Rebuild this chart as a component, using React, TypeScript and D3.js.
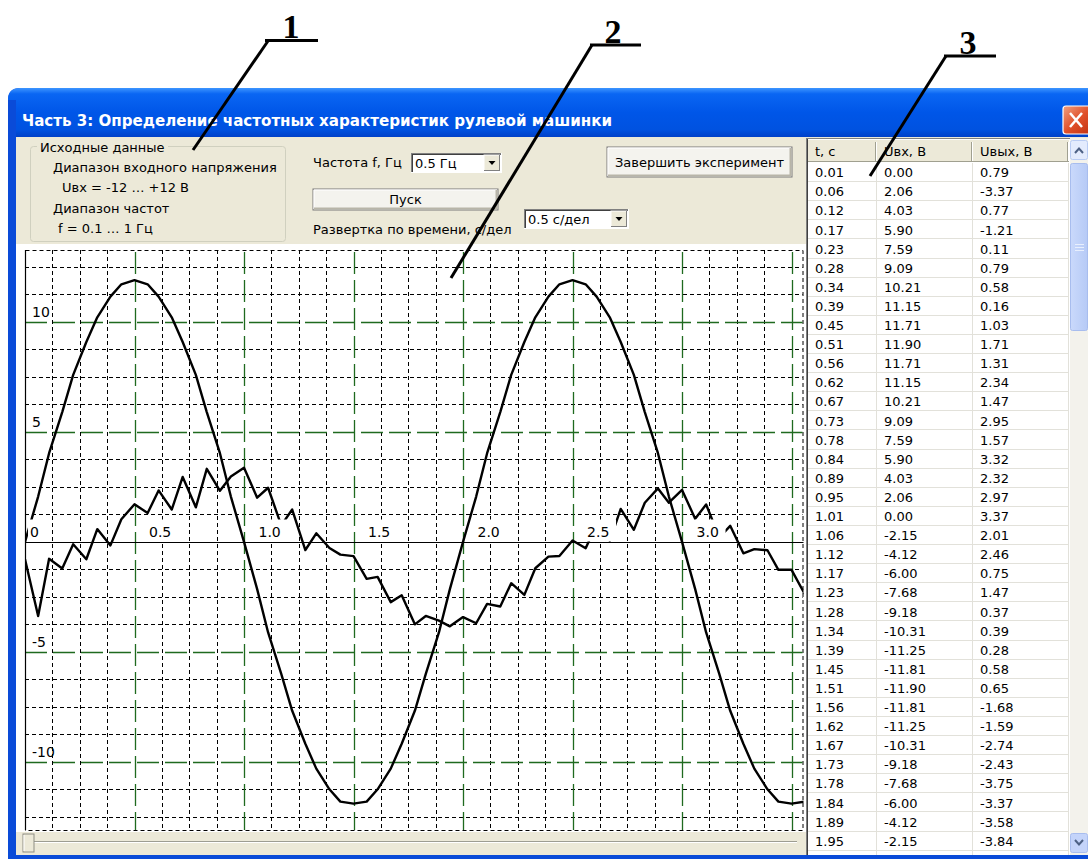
import React from "react";
import * as d3 from "d3";

// ---------- table (as displayed in the grid on the right) ----------
const tableTime = ["0.01","0.06","0.12","0.17","0.23","0.28","0.34","0.39","0.45","0.51","0.56","0.62","0.67","0.73","0.78","0.84","0.89","0.95","1.01","1.06","1.12","1.17","1.23","1.28","1.34","1.39","1.45","1.51","1.56","1.62","1.67","1.73","1.78","1.84","1.89","1.95"];
const tableUin = ["0.00","2.06","4.03","5.90","7.59","9.09","10.21","11.15","11.71","11.90","11.71","11.15","10.21","9.09","7.59","5.90","4.03","2.06","0.00","-2.15","-4.12","-6.00","-7.68","-9.18","-10.31","-11.25","-11.81","-11.90","-11.81","-11.25","-10.31","-9.18","-7.68","-6.00","-4.12","-2.15"];
const tableUout = ["0.79","-3.37","0.77","-1.21","0.11","0.79","0.58","0.16","1.03","1.71","1.31","2.34","1.47","2.95","1.57","3.32","2.32","2.97","3.37","2.01","2.46","0.75","1.47","0.37","0.39","0.28","0.58","0.65","-1.68","-1.59","-2.74","-2.43","-3.75","-3.37","-3.58","-3.84"];
const tableHeaders = ["t, c", "Uвх, В", "Uвых, В"];

// ---------- oscillogram ----------
const plotTime = [0.00,0.06,0.11,0.17,0.22,0.28,0.33,0.39,0.44,0.50,0.56,0.61,0.67,0.72,0.78,0.83,0.89,0.94,1.00,1.06,1.11,1.17,1.22,1.28,1.33,1.39,1.44,1.50,1.56,1.61,1.67,1.72,1.78,1.83,1.89,1.94,2.00,2.06,2.11,2.17,2.22,2.28,2.33,2.39,2.44,2.50,2.56,2.61,2.67,2.72,2.78,2.83,2.89,2.94,3.00,3.06,3.11,3.17,3.22,3.28,3.33,3.39,3.44,3.50,3.56];
const plotUin = [0.00,2.06,4.03,5.90,7.59,9.09,10.21,11.15,11.71,11.90,11.71,11.15,10.21,9.09,7.59,5.90,4.03,2.06,0.00,-2.15,-4.12,-6.00,-7.68,-9.18,-10.31,-11.25,-11.81,-11.90,-11.81,-11.25,-10.31,-9.18,-7.68,-6.00,-4.12,-2.15,0.00,2.06,4.03,5.90,7.59,9.09,10.21,11.15,11.71,11.90,11.71,11.15,10.21,9.09,7.59,5.90,4.03,2.06,0.00,-2.15,-4.12,-6.00,-7.68,-9.18,-10.31,-11.25,-11.81,-11.90,-11.81];
const plotUout = [-0.79,-3.37,-0.77,-1.21,-0.11,-0.79,0.58,-0.16,1.03,1.71,1.31,2.34,1.47,2.95,1.57,3.32,2.32,2.97,3.37,2.01,2.46,0.75,1.47,-0.37,0.39,-0.28,-0.58,-0.65,-1.68,-1.59,-2.74,-2.43,-3.75,-3.37,-3.58,-3.84,-3.42,-3.70,-2.82,-2.94,-1.88,-2.41,-1.20,-0.67,-0.64,0.06,-0.29,0.80,0.05,1.50,0.55,1.78,2.43,1.78,2.36,1.05,1.70,0.20,0.73,-0.52,-0.33,-0.38,-1.27,-1.27,-2.37];

const xMajorTicks = [0.5, 1.0, 1.5, 2.0, 2.5, 3.0, 3.5];
const xLabelTicks = [0, 0.5, 1.0, 1.5, 2.0, 2.5, 3.0];
const xLabelTexts = ["0", "0.5", "1.0", "1.5", "2.0", "2.5", "3.0"];
const yMajorTicks = [10, 5, -5, -10];
const yLabelTexts = ["10", "5", "-5", "-10"];

// ---------- UI texts ----------
const windowTitle = "Часть 3: Определение частотных характеристик рулевой машинки";
const groupTitle = "Исходные данные";
const groupLines = ["Диапазон входного напряжения", "Uвх = -12 … +12 В", "Диапазон частот", "f = 0.1 … 1 Гц"];
const freqLabel = "Частота f, Гц";
const freqValue = "0.5 Гц";
const startLabel = "Пуск";
const sweepLabel = "Развертка по времени, с/дел";
const sweepValue = "0.5 с/дел";
const finishLabel = "Завершить эксперимент";
const callouts = ["1", "2", "3"];

const UI_FONT = "'DejaVu Sans', Verdana, sans-serif";
const BEIGE = "#ECE9D8";

function Button3D({ x, y, w, h, label, fs = 13 }: any) {
  return (
    <g>
      <rect x={x} y={y} width={w} height={h} fill="#F4F3EE" stroke="#7A7A7A" strokeWidth={1} />
      <line x1={x + 1} y1={y + 1} x2={x + w - 1} y2={y + 1} stroke="#fff" />
      <line x1={x + 1} y1={y + 1} x2={x + 1} y2={y + h - 1} stroke="#fff" />
      <line x1={x + 1} y1={y + h - 1.5} x2={x + w - 1} y2={y + h - 1.5} stroke="#B8B5A8" strokeWidth={2} />
      <line x1={x + w - 1.5} y1={y + 1} x2={x + w - 1.5} y2={y + h - 1} stroke="#B8B5A8" strokeWidth={2} />
      <text x={x + w / 2} y={y + h / 2 + 4.7} fontSize={fs} fontFamily={UI_FONT} textAnchor="middle" fill="#000">{label}</text>
    </g>
  );
}

function Combo({ x, y, w, h, value }: any) {
  const bx = x + w - 18;
  return (
    <g>
      <rect x={x} y={y} width={w} height={h} fill="#fff" />
      <line x1={x} y1={y + 0.5} x2={x + w} y2={y + 0.5} stroke="#808080" />
      <line x1={x + 0.5} y1={y} x2={x + 0.5} y2={y + h} stroke="#808080" />
      <line x1={x + 1} y1={y + 1.5} x2={x + w - 1} y2={y + 1.5} stroke="#404040" />
      <line x1={x + 1.5} y1={y + 1} x2={x + 1.5} y2={y + h - 1} stroke="#404040" />
      <line x1={x} y1={y + h - 0.5} x2={x + w} y2={y + h - 0.5} stroke="#fff" />
      <line x1={x + w - 0.5} y1={y} x2={x + w - 0.5} y2={y + h} stroke="#fff" />
      <rect x={bx} y={y + 2} width={16} height={h - 4} fill={BEIGE} stroke="#fff" strokeWidth={1} />
      <line x1={bx} y1={y + h - 2.5} x2={bx + 16} y2={y + h - 2.5} stroke="#808080" />
      <line x1={bx + 15.5} y1={y + 2} x2={bx + 15.5} y2={y + h - 2} stroke="#808080" />
      <path d={`M${bx + 4.5},${y + h / 2 - 2} L${bx + 11.5},${y + h / 2 - 2} L${bx + 8},${y + h / 2 + 2} Z`} fill="#000" />
      <text x={x + 4} y={y + h / 2 + 4.7} fontSize={13} fontFamily={UI_FONT} fill="#000">{value}</text>
    </g>
  );
}

export default function App() {
  // plot geometry
  const left = 25, right = 802.5, top = 250, bottom = 830;
  const x = d3.scaleLinear().domain([0, 3.55]).range([left, right]);
  const y = d3.scaleLinear().domain([-13.1, 13.27]).range([bottom, top]);

  const lineGen = d3.line<number>().x((_, i) => x(plotTime[i])).y((d) => y(d)).curve(d3.curveLinear);

  const xMinor = d3.range(1, 29).filter((k) => k % 4 !== 0).map((k) => k * 0.125);
  const yMinor = d3.range(-10, 11).filter((k) => k % 4 !== 0).map((k) => k * 1.25);

  // table geometry
  const colX = [808, 877, 973, 1069];
  const headTop = 140, headBot = 162;
  const rowTop = 163, rowH = 19.1;
  const rows = d3.range(tableTime.length);

  const cells = [tableTime, tableUin, tableUout];

  return (
    <svg width={1088} height={859} viewBox="0 0 1088 859" style={{ position: "absolute", left: 0, top: 0, background: "#fff" }}>
      <defs>
        <linearGradient id="titleGrad" x1="0" y1="0" x2="0" y2="1">
          <stop offset="0" stopColor="#3D95FF" />
          <stop offset="0.12" stopColor="#0A66F3" />
          <stop offset="0.5" stopColor="#0056E8" />
          <stop offset="0.85" stopColor="#0052E0" />
          <stop offset="1" stopColor="#0040C8" />
        </linearGradient>
        <linearGradient id="closeGrad" x1="0" y1="0" x2="1" y2="1">
          <stop offset="0" stopColor="#F0A080" />
          <stop offset="0.5" stopColor="#E0502A" />
          <stop offset="1" stopColor="#C03010" />
        </linearGradient>
        <linearGradient id="thumbGrad" x1="0" y1="0" x2="1" y2="0">
          <stop offset="0" stopColor="#CAD9FB" />
          <stop offset="1" stopColor="#B6CAF6" />
        </linearGradient>
        <clipPath id="plotClip">
          <rect x={left} y={top} width={right - left + 1} height={bottom - top} />
        </clipPath>
      </defs>

      {/* ---------- window ---------- */}
      <path d="M8,100 Q8,88 20,88 L1088,88 L1088,859 L8,859 Z" fill="#0A4BD8" />
      <path d="M8,100 Q8,88 20,88 L1088,88 L1088,137 L8,137 Z" fill="url(#titleGrad)" />
      <text x={22} y={126} fontSize={16} fontWeight="bold" fontFamily="'DejaVu Sans Condensed', 'DejaVu Sans', sans-serif" fill="#fff" textLength={590} lengthAdjust="spacingAndGlyphs">{windowTitle}</text>
      <rect x={1063} y={106} width={30} height={28} rx={3} fill="url(#closeGrad)" stroke="#fff" strokeWidth={1.2} />
      <path d="M1070,113 L1082,127 M1082,113 L1070,127" stroke="#fff" strokeWidth={2.5} />

      {/* client area */}
      <rect x={16} y={137} width={1072} height={718} fill={BEIGE} />

      {/* group box */}
      <rect x={30.5} y={146.5} width={255} height={95} rx={3} fill="none" stroke="#D0D0BF" />
      <rect x={37} y={139} width={131} height={16} fill={BEIGE} />
      <text x={40} y={151.5} fontSize={13} fontFamily={UI_FONT} fill="#000">{groupTitle}</text>
      <text x={53} y={172} fontSize={13} fontFamily={UI_FONT} fill="#000">{groupLines[0]}</text>
      <text x={62} y={192} fontSize={13} fontFamily={UI_FONT} fill="#000">{groupLines[1]}</text>
      <text x={53} y={213} fontSize={13} fontFamily={UI_FONT} fill="#000">{groupLines[2]}</text>
      <text x={58} y={233} fontSize={13} fontFamily={UI_FONT} fill="#000">{groupLines[3]}</text>

      {/* controls */}
      <text x={313} y={166.5} fontSize={13} fontFamily={UI_FONT} fill="#000">{freqLabel}</text>
      <Combo x={411} y={153} w={91} h={20} value={freqValue} />
      <Button3D x={313} y={189} w={185} h={21} label={startLabel} />
      <text x={313} y={233.5} fontSize={13} fontFamily={UI_FONT} fill="#000">{sweepLabel}</text>
      <Combo x={524} y={209} w={105} h={20} value={sweepValue} />
      <Button3D x={607} y={147} w={185} h={30} label={finishLabel} />

      {/* ---------- plot panel ---------- */}
      <rect x={16} y={244} width={790} height={588} fill="#fff" />

      {/* minor grid */}
      <g stroke="#000" strokeWidth={1} strokeDasharray="4 3" fill="none">
        {xMinor.map((v) => (
          <line key={"xm" + v} x1={Math.round(x(v)) + 0.5} y1={top} x2={Math.round(x(v)) + 0.5} y2={bottom} />
        ))}
        {yMinor.map((v) => (
          <line key={"ym" + v} x1={left} y1={Math.round(y(v)) + 0.5} x2={right} y2={Math.round(y(v)) + 0.5} />
        ))}
        <rect x={left + 0.5} y={top + 0.5} width={right - left} height={bottom - top} />
      </g>
      {/* major grid */}
      <g stroke="#1F6A1F" strokeWidth={1.3} strokeDasharray="22 6" fill="none">
        {xMajorTicks.map((v) => (
          <line key={"xM" + v} x1={Math.round(x(v)) + 0.5} y1={top + 2} x2={Math.round(x(v)) + 0.5} y2={bottom} />
        ))}
        {yMajorTicks.map((v) => (
          <line key={"yM" + v} x1={left} y1={Math.round(y(v)) + 0.5} x2={right} y2={Math.round(y(v)) + 0.5} />
        ))}
      </g>
      {/* axes */}
      <line x1={left + 0.5} y1={top} x2={left + 0.5} y2={bottom} stroke="#000" strokeWidth={1.2} />
      <line x1={left} y1={Math.round(y(0)) + 0.5} x2={right + 1} y2={Math.round(y(0)) + 0.5} stroke="#000" strokeWidth={1.2} />

      {/* signals */}
      <g clipPath="url(#plotClip)" fill="none" stroke="#000" strokeWidth={2.4} strokeLinejoin="round">
        <path d={lineGen(plotUin) || ""} />
        <path d={lineGen(plotUout) || ""} />
      </g>

      {/* axis labels (opaque boxes) */}
      {xLabelTicks.map((v, i) => {
        const tx = v === 0 ? x(v) + 5 : x(v) + 14.5;
        const w = xLabelTexts[i].length === 1 ? 9 : 22;
        return (
          <g key={"xl" + v}>
            <rect x={tx - 2} y={519.5} width={w + 9} height={Math.round(y(0)) - 520} fill="#fff" />
            <text x={tx} y={537} fontSize={14} fontFamily={UI_FONT} fill="#000">{xLabelTexts[i]}</text>
          </g>
        );
      })}
      {yMajorTicks.map((v, i) => (
        <g key={"yl" + v}>
          <text x={32} y={y(v) - 10 + 5} fontSize={14} fontFamily={UI_FONT} fill="#000">{yLabelTexts[i]}</text>
        </g>
      ))}

      {/* trackbar */}
      <rect x={16} y={832} width={790} height={23} fill={BEIGE} />
      <line x1={26} y1={841.5} x2={797} y2={841.5} stroke="#9D9D92" />
      <line x1={26} y1={842.5} x2={797} y2={842.5} stroke="#fff" />
      <rect x={23} y={834} width={11} height={18} fill={BEIGE} stroke="#8E8E84" />
      <line x1={24} y1={835} x2={24} y2={851} stroke="#fff" />

      {/* ---------- table ---------- */}
      <rect x={806} y={138} width={264} height={717} fill="#fff" />
      <line x1={806.5} y1={138} x2={806.5} y2={855} stroke="#808080" />
      <line x1={807.5} y1={139} x2={807.5} y2={855} stroke="#404040" />
      <line x1={806} y1={138.5} x2={1070} y2={138.5} stroke="#808080" />
      {/* header */}
      <rect x={808} y={headTop} width={261} height={headBot - headTop} fill={BEIGE} />
      <line x1={808} y1={headBot - 0.5} x2={1069} y2={headBot - 0.5} stroke="#A0A090" />
      {colX.slice(1).map((cx) => (
        <g key={"hc" + cx}>
          <line x1={cx - 1.5} y1={headTop + 2} x2={cx - 1.5} y2={headBot - 1} stroke="#A0A090" />
          <line x1={cx - 0.5} y1={headTop + 2} x2={cx - 0.5} y2={headBot - 1} stroke="#fff" />
        </g>
      ))}
      {tableHeaders.map((h, i) => (
        <text key={"h" + i} x={colX[i] + 7} y={headTop + 15.5} fontSize={13} fontFamily={UI_FONT} fill="#000">{h}</text>
      ))}
      {/* body grid */}
      <g stroke="#E2E1DA" strokeWidth={1}>
        {rows.map((r) => (
          <line key={"rl" + r} x1={808} y1={Math.round(rowTop + (r + 1) * rowH) - 0.5} x2={1069} y2={Math.round(rowTop + (r + 1) * rowH) - 0.5} />
        ))}
        {colX.slice(1).map((cx) => (
          <line key={"cl" + cx} x1={cx - 0.5} y1={rowTop} x2={cx - 0.5} y2={855} />
        ))}
      </g>
      {rows.map((r) => (
        <g key={"row" + r}>
          {cells.map((col, c) => (
            <text key={c} x={colX[c] + 7} y={rowTop + r * rowH + rowH / 2 + 4.7} fontSize={13} fontFamily={UI_FONT} fill="#000">{col[r]}</text>
          ))}
        </g>
      ))}

      {/* vertical scrollbar */}
      <rect x={1070} y={138} width={18} height={717} fill="#F3F2EC" />
      <rect x={1070.5} y={140.5} width={17} height={19} rx={2} fill="#E3EBFD" stroke="#B8CBF3" />
      <path d="M1075,153 L1079,148.5 L1083,153" fill="none" stroke="#4D6185" strokeWidth={2} />
      <rect x={1070.5} y={163.5} width={17} height={167} rx={2} fill="url(#thumbGrad)" stroke="#A8BDEE" />
      <g stroke="#E8EFFD" strokeWidth={1}>
        <line x1={1075} y1={244.5} x2={1084} y2={244.5} />
        <line x1={1075} y1={247.5} x2={1084} y2={247.5} />
        <line x1={1075} y1={250.5} x2={1084} y2={250.5} />
      </g>
      <rect x={1070.5} y={833.5} width={17} height={19} rx={2} fill="#C4D4FA" stroke="#A8BDEE" />
      <path d="M1075,840 L1079,844.5 L1083,840" fill="none" stroke="#4D6185" strokeWidth={2} />

      {/* bottom frame */}
      <rect x={8} y={855} width={1080} height={4} fill="#0A4BD8" />
      <rect x={8} y={100} width={8} height={759} fill="#0A4BD8" />

      {/* ---------- callouts ---------- */}
      <g stroke="#000" strokeWidth={3} fill="none" strokeLinecap="butt">
        <line x1={265} y1={40.5} x2={318} y2={40.5} />
        <line x1={268} y1={41} x2={193} y2={150} />
        <line x1={590} y1={45} x2={641} y2={45} />
        <line x1={592} y1={45} x2={451} y2={278} />
        <line x1={944} y1={56} x2={996} y2={56} />
        <line x1={946} y1={56} x2={870} y2={176} />
      </g>
      <text x={291} y={38} fontSize={34} fontWeight="bold" fontFamily="'Liberation Serif', 'Times New Roman', serif" textAnchor="middle" fill="#000">{callouts[0]}</text>
      <text x={613} y={43} fontSize={34} fontWeight="bold" fontFamily="'Liberation Serif', 'Times New Roman', serif" textAnchor="middle" fill="#000">{callouts[1]}</text>
      <text x={968} y={54} fontSize={34} fontWeight="bold" fontFamily="'Liberation Serif', 'Times New Roman', serif" textAnchor="middle" fill="#000">{callouts[2]}</text>
    </svg>
  );
}
